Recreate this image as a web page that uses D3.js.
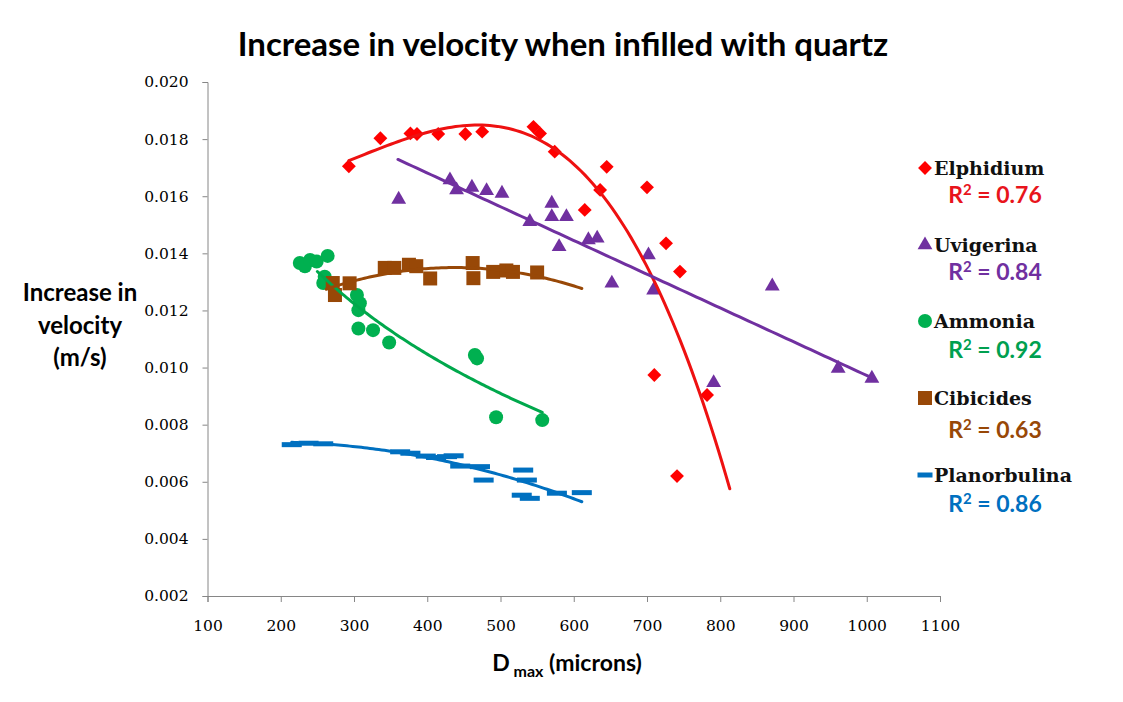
<!DOCTYPE html>
<html><head><meta charset="utf-8">
<script src="https://cdn.jsdelivr.net/npm/d3@7/dist/d3.min.js"></script>
<style>body{margin:0;background:#fff}svg{display:block}</style>
</head><body>
<svg id="chart" width="1123" height="702"></svg>
<script>
// ---------- data ----------
const seriesNames = ["Elphidium", "Uvigerina", "Ammonia", "Cibicides", "Planorbulina"];
const r2Labels = ["0.76", "0.84", "0.92", "0.63", "0.86"];

const elphidiumX = [293, 336, 377, 386, 415, 452, 475, 545, 554, 574, 645, 615, 700, 636, 726, 745, 710, 782, 741];
const elphidiumY = [0.01705, 0.01803, 0.0182, 0.01818, 0.01818, 0.01818, 0.01826, 0.01843, 0.0182, 0.01756, 0.01703, 0.01552, 0.01631, 0.01622, 0.01435, 0.01336, 0.00974, 0.00904, 0.0062];

const uvigerinaX = [361, 431, 440, 461, 481, 502, 540, 570, 570, 590, 580, 620, 632, 702, 652, 709, 871, 791, 961, 1007];
const uvigerinaY = [0.01589, 0.01657, 0.01622, 0.01631, 0.01619, 0.0161, 0.01511, 0.01575, 0.01528, 0.01528, 0.01423, 0.01447, 0.01453, 0.01394, 0.01295, 0.01271, 0.01285, 0.00947, 0.00997, 0.00962];

const ammoniaX = [226, 233, 240, 249, 264, 260, 258, 304, 306, 306, 308, 326, 348, 465, 468, 494, 557];
const ammoniaY = [0.01366, 0.01355, 0.01377, 0.01371, 0.01391, 0.01318, 0.01296, 0.01254, 0.01201, 0.01137, 0.01225, 0.01131, 0.01088, 0.01044, 0.01032, 0.00826, 0.00816];

const cibicidesX = [271, 274, 294, 342, 355, 375, 385, 404, 462, 463, 490, 508, 517, 550];
const cibicidesY = [0.01296, 0.01254, 0.01295, 0.01349, 0.01349, 0.0136, 0.01355, 0.01312, 0.01366, 0.01313, 0.01335, 0.0134, 0.01335, 0.01333];

const planorbulinaX = [215, 238, 258, 363, 377, 398, 412, 427, 436, 445, 472, 477, 531, 536, 529, 540, 577, 611];
const planorbulinaY = [0.0073, 0.00735, 0.00733, 0.00705, 0.007, 0.0069, 0.00685, 0.00688, 0.00691, 0.00655, 0.00653, 0.00606, 0.00641, 0.00606, 0.00553, 0.00542, 0.0056, 0.00562];

// trendline types and their drawn x extents
const trendTypes = ["poly3", "linear", "log", "poly2", "poly2"];
const trendStart = [293, 360, 250, 262, 215];
const trendEnd = [813, 1007, 557, 611, 611];

const xTicks = [100, 200, 300, 400, 500, 600, 700, 800, 900, 1000, 1100];
const yTicks = [0.002, 0.004, 0.006, 0.008, 0.010, 0.012, 0.014, 0.016, 0.018, 0.020];

// ---------- styling ----------
const colors = ["#FF0000", "#7030A0", "#00B050", "#984807", "#0070C0"];
const lineColors = ["#EE1111", "#7030A0", "#00A84C", "#984807", "#0070C0"];
const textColors = ["#E8141C", "#7030A0", "#00A050", "#984807", "#0070C0"];
const shapes = ["diamond", "triangle", "circle", "square", "dash"];

const seriesX = [elphidiumX, uvigerinaX, ammoniaX, cibicidesX, planorbulinaX];
const seriesY = [elphidiumY, uvigerinaY, ammoniaY, cibicidesY, planorbulinaY];

const svg = d3.select("#chart");
svg.append("rect").attr("width", 1123).attr("height", 702).attr("fill", "#fff");

const x = d3.scaleLinear().domain([100, 1100]).range([207.5, 940]);
const y = d3.scaleLinear().domain([0.002, 0.020]).range([596, 82]);

// ---------- fitting ----------
function solve(A, b) {
  const n = b.length;
  const M = A.map((r, i) => r.concat([b[i]]));
  for (let c = 0; c < n; c++) {
    let p = c;
    for (let r = c + 1; r < n; r++) if (Math.abs(M[r][c]) > Math.abs(M[p][c])) p = r;
    [M[c], M[p]] = [M[p], M[c]];
    for (let r = 0; r < n; r++) {
      if (r === c) continue;
      const f = M[r][c] / M[c][c];
      for (let k = c; k <= n; k++) M[r][k] -= f * M[c][k];
    }
  }
  return M.map((r, i) => r[n] / r[i]);
}
function polyfit(xs, ys, deg) {
  const s = 1000;
  const A = [], b = [];
  for (let i = 0; i <= deg; i++) {
    A.push([]);
    for (let j = 0; j <= deg; j++) A[i].push(d3.sum(xs, v => Math.pow(v / s, i + j)));
    b.push(d3.sum(xs.map((v, k) => ys[k] * Math.pow(v / s, i))));
  }
  const c = solve(A, b);
  return v => c.reduce((acc, ci, i) => acc + ci * Math.pow(v / s, i), 0);
}
function fitFor(type, xs, ys) {
  if (type === "linear") return polyfit(xs, ys, 1);
  if (type === "poly2") return polyfit(xs, ys, 2);
  if (type === "poly3") return polyfit(xs, ys, 3);
  if (type === "log") {
    const f = polyfit(xs.map(Math.log), ys, 1);
    return v => f(Math.log(v));
  }
}

// ---------- axes ----------
const yAxis = svg.append("g").attr("transform", "translate(207.5,0)")
  .call(d3.axisLeft(y).tickValues(yTicks).tickFormat(d3.format(".3f")).tickSize(5).tickPadding(14));
const xAxis = svg.append("g").attr("transform", "translate(0,596)")
  .call(d3.axisBottom(x).tickValues(xTicks).tickFormat(d3.format("d")).tickSize(6).tickPadding(18));
[yAxis, xAxis].forEach(g => {
  g.selectAll("path,line").attr("stroke", "#868686").attr("stroke-width", 1);
  g.selectAll("text").attr("font-family", "DejaVu Serif").attr("font-size", 15.5).attr("fill", "#000");
});

// ---------- markers ----------
function drawMarker(g, shape, cx, cy, color, big) {
  if (shape === "diamond") {
    g.append("path").attr("d", d3.symbol(d3.symbolSquare, 96)()).attr("fill", color)
      .attr("transform", `translate(${cx},${cy}) rotate(45)`);
  } else if (shape === "triangle") {
    g.append("path").attr("d", d3.symbol(d3.symbolTriangle, 95)()).attr("fill", color)
      .attr("transform", `translate(${cx},${cy})`);
  } else if (shape === "circle") {
    g.append("circle").attr("cx", cx).attr("cy", cy).attr("r", 7).attr("fill", color);
  } else if (shape === "square") {
    g.append("rect").attr("x", cx - 7).attr("y", cy - 7).attr("width", 14).attr("height", 14).attr("fill", color);
  } else if (shape === "dash") {
    const w = big ? 15 : 20;
    g.append("rect").attr("x", cx - w / 2).attr("y", cy - 2.5).attr("width", w).attr("height", 5).attr("fill", color);
  }
}

const plot = svg.append("g");
seriesNames.forEach((name, si) => {
  const g = plot.append("g");
  seriesX[si].forEach((xv, i) => drawMarker(g, shapes[si], x(xv), y(seriesY[si][i]), colors[si], false));
});

// ---------- trendlines ----------
const line = d3.line().x(d => x(d[0])).y(d => y(d[1])).curve(d3.curveLinear);
seriesNames.forEach((name, si) => {
  const f = fitFor(trendTypes[si], seriesX[si], seriesY[si]);
  const pts = d3.range(0, 101).map(i => {
    const xv = trendStart[si] + (trendEnd[si] - trendStart[si]) * i / 100;
    return [xv, f(xv)];
  });
  svg.append("path").datum(pts).attr("d", line).attr("fill", "none")
    .attr("stroke", lineColors[si]).attr("stroke-width", 3).attr("stroke-linecap", "round");
});

// ---------- titles ----------
svg.append("text").attr("x", 563).attr("y", 56).attr("text-anchor", "middle")
  .attr("font-family", "Lato").attr("font-weight", "bold").attr("font-size", 33).attr("fill", "#000")
  .text("Increase in velocity when infilled with quartz");

const yt = svg.append("text").attr("text-anchor", "middle")
  .attr("font-family", "Lato").attr("font-weight", "bold").attr("font-size", 24).attr("fill", "#000");
["Increase in", "velocity", "(m/s)"].forEach((t, i) =>
  yt.append("tspan").attr("x", 80).attr("y", 301 + i * 32.5).text(t));

const xt = svg.append("text").attr("x", 567).attr("y", 671).attr("text-anchor", "middle")
  .attr("font-family", "Lato").attr("font-weight", "bold").attr("font-size", 23).attr("fill", "#000");
xt.append("tspan").text("D");
xt.append("tspan").attr("font-size", 16).attr("dy", 6).text(" max");
xt.append("tspan").attr("dy", -6).text(" (microns)");

// ---------- legend ----------
const legNameY = [175, 252, 328, 405, 482];
const legR2Y = [203, 280, 358, 438, 512];
const lg = svg.append("g");
seriesNames.forEach((name, si) => {
  const my = legNameY[si] - 7;
  drawMarker(lg, shapes[si], 925, my, colors[si], true);
  lg.append("text").attr("x", 934).attr("y", legNameY[si])
    .attr("font-family", "DejaVu Serif").attr("font-weight", "bold").attr("font-size", 19)
    .attr("fill", "#111").text(name);
  const t = lg.append("text").attr("x", 995).attr("y", legR2Y[si]).attr("text-anchor", "middle")
    .attr("font-family", "Lato").attr("font-weight", "bold").attr("font-size", 23).attr("fill", textColors[si]);
  t.append("tspan").text("R");
  t.append("tspan").attr("font-size", 15).attr("dy", -8).text("2");
  t.append("tspan").attr("dy", 8).text(" = " + r2Labels[si]);
});
</script>
</body></html>
